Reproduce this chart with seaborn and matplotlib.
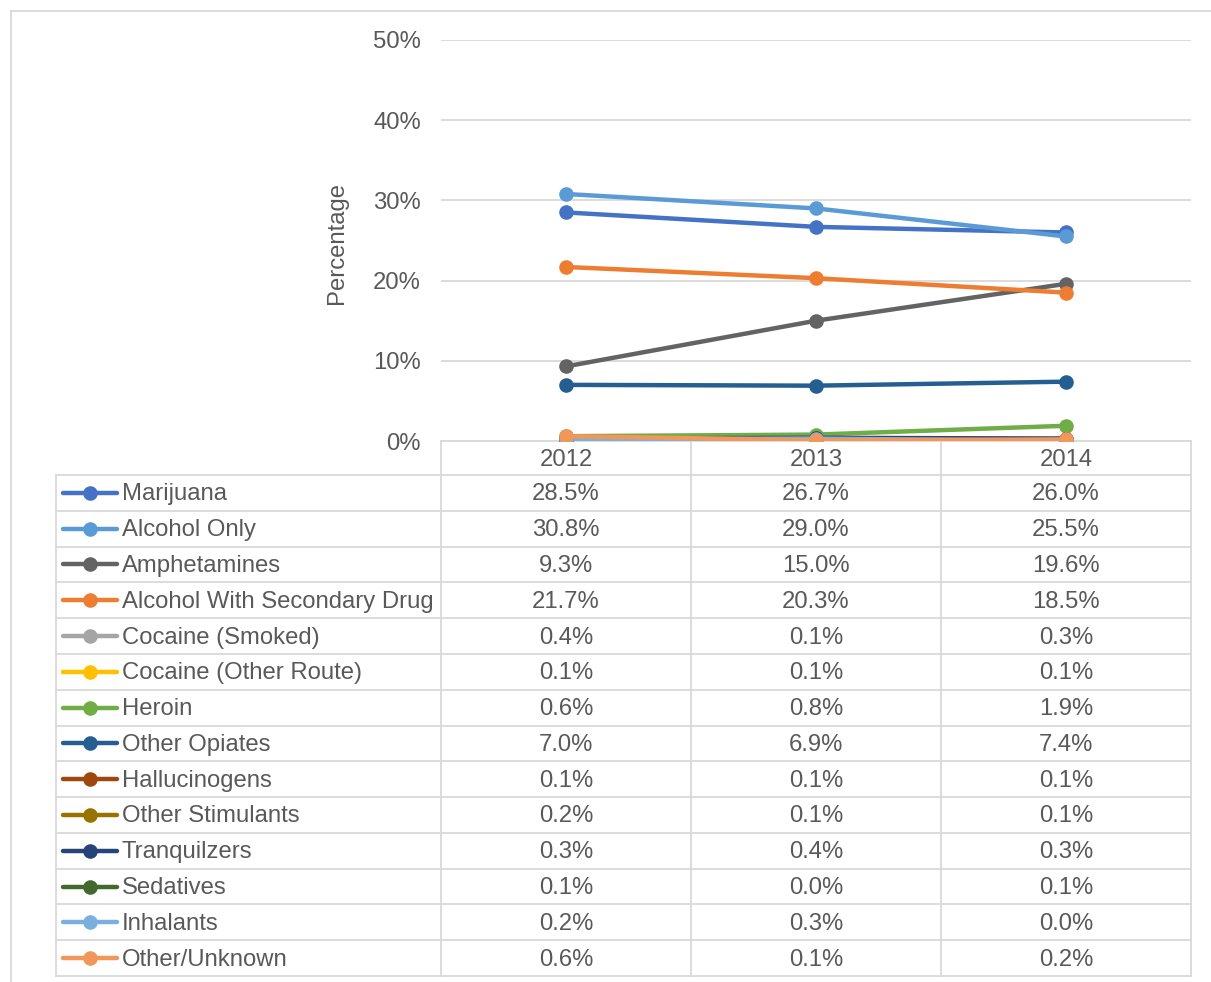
import matplotlib
matplotlib.use("Agg")
import matplotlib.pyplot as plt
import seaborn as sns
import pandas as pd
from matplotlib.lines import Line2D

years = ["2012", "2013", "2014"]
categories = ["Marijuana", "Alcohol Only", "Amphetamines", "Alcohol With Secondary Drug",
              "Cocaine (Smoked)", "Cocaine (Other Route)", "Heroin", "Other Opiates",
              "Hallucinogens", "Other Stimulants", "Tranquilzers", "Sedatives",
              "Inhalants", "Other/Unknown"]
marijuana = [28.5, 26.7, 26.0]
alcohol_only = [30.8, 29.0, 25.5]
amphetamines = [9.3, 15.0, 19.6]
alcohol_secondary = [21.7, 20.3, 18.5]
cocaine_smoked = [0.4, 0.1, 0.3]
cocaine_other = [0.1, 0.1, 0.1]
heroin = [0.6, 0.8, 1.9]
other_opiates = [7.0, 6.9, 7.4]
hallucinogens = [0.1, 0.1, 0.1]
other_stimulants = [0.2, 0.1, 0.1]
tranquilizers = [0.3, 0.4, 0.3]
sedatives = [0.1, 0.0, 0.1]
inhalants = [0.2, 0.3, 0.0]
other_unknown = [0.6, 0.1, 0.2]
series = [marijuana, alcohol_only, amphetamines, alcohol_secondary, cocaine_smoked,
          cocaine_other, heroin, other_opiates, hallucinogens, other_stimulants,
          tranquilizers, sedatives, inhalants, other_unknown]
colors = ["#4472C4", "#5B9BD5", "#636363", "#ED7D31", "#A5A5A5", "#FFC000", "#70AD47",
          "#255E91", "#9E480E", "#997300", "#264478", "#43682B", "#7CAFDD", "#F1975A"]
yticks = [0, 10, 20, 30, 40, 50]

rows = []
for cat, vals in zip(categories, series):
    for y, v in zip(years, vals):
        rows.append({"Year": y, "Category": cat, "Value": v / 100.0})
df = pd.DataFrame(rows)

W, H = 1211, 982
fig = plt.figure(figsize=(W / 100, H / 100), dpi=100)
TXT = "#595959"
GRID = "#D9D9D9"
FONT = "Liberation Sans"
FS = 17.2

def fx(px):
    return px / W

def fy(py):
    return 1 - py / H

# overlay axes in pixel coords
ov = fig.add_axes([0, 0, 1, 1])
ov.set_xlim(0, W)
ov.set_ylim(H, 0)
ov.axis("off")

# outer border
ov.plot([11, 11], [11, H + 5], color=GRID, lw=1.3)
ov.plot([11, W + 5], [11, 11], color=GRID, lw=1.3)

left, right, top, bottom = 441, 1191, 40, 441
ax = fig.add_axes([fx(left), fy(bottom), fx(right) - fx(left), fy(top) - fy(bottom)])
sns.lineplot(data=df, x="Year", y="Value", hue="Category", hue_order=categories,
             palette=colors, marker="o", markersize=10.5, markeredgewidth=0,
             linewidth=3.2, ax=ax, legend=False, sort=False)
ax.set_xlim(-0.5, 2.5)
ax.set_ylim(0, 0.5)
ax.set_yticks([t / 100 for t in yticks])
ax.set_yticklabels([f"{t}%" for t in yticks], fontsize=FS, color=TXT, family=FONT)
ax.tick_params(axis="y", length=0, pad=14.5)
ax.set_xticks([])
ax.set_xlabel("")
ax.set_ylabel("")
ax.grid(axis="y", color=GRID, lw=1.3)
ax.set_axisbelow(True)
for s in ax.spines.values():
    s.set_visible(False)
ax.patch.set_alpha(0)
ov.text(337, 243, "Percentage", rotation=90, ha="center", va="center",
        fontsize=FS, color=TXT, family=FONT)

# table
col_edges = [441, 691, 941, 1191]
header_top, header_bot = 441, 475
row_h = (976 - 475) / len(categories)
row_edges = [475 + i * row_h for i in range(len(categories) + 1)]
tab_left = 56
lw = 1.3
ov.plot([col_edges[0], col_edges[-1]], [header_top, header_top], color=GRID, lw=lw)
for xe in col_edges:
    ov.plot([xe, xe], [header_top, row_edges[-1]], color=GRID, lw=lw)
for ye in row_edges:
    ov.plot([tab_left, col_edges[-1]], [ye, ye], color=GRID, lw=lw)
ov.plot([tab_left, tab_left], [row_edges[0], row_edges[-1]], color=GRID, lw=lw)
for j, yr in enumerate(years):
    ov.text((col_edges[j] + col_edges[j + 1]) / 2, (header_top + header_bot) / 2 + 2, yr,
            ha="center", va="center", fontsize=FS, color=TXT, family=FONT)
for i, (cat, vals, c) in enumerate(zip(categories, series, colors)):
    yc = (row_edges[i] + row_edges[i + 1]) / 2
    ov.add_line(Line2D([63, 117], [yc, yc], color=c, lw=3.2, solid_capstyle="round"))
    ov.plot([90], [yc], marker="o", color=c, markersize=10.5, markeredgewidth=0)
    ov.text(122, yc + 1.5, cat, ha="left", va="center", fontsize=FS, color=TXT, family=FONT)
    for j, v in enumerate(vals):
        ov.text((col_edges[j] + col_edges[j + 1]) / 2, yc + 1.5, f"{v:.1f}%",
                ha="center", va="center", fontsize=FS, color=TXT, family=FONT)

fig.savefig("out.png", dpi=100)
